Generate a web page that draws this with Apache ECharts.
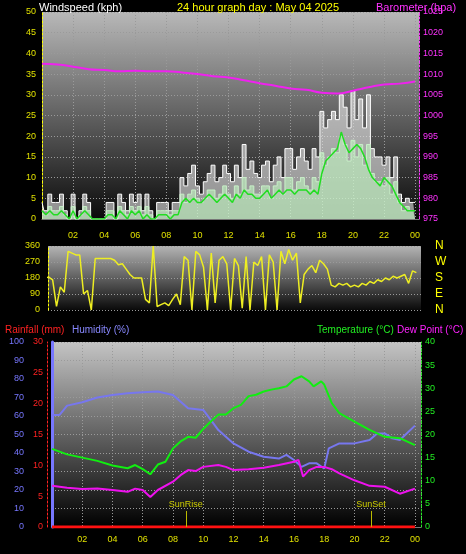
<!DOCTYPE html>
<html>
<head>
<meta charset="utf-8">
<script src="https://cdn.jsdelivr.net/npm/echarts@6/dist/echarts.min.js"></script>
<style>
	html, body { margin: 0; padding: 0; background: #000; }
	#chart { width: 466px; height: 554px; }
</style>
</head>
<body>
<div id="chart"></div>
<script>
//   wind, quarter-hour samples from 00:00
var windStep = 0.25;
var windGust = [4,2,6,4, 4,6,2,0, 6,0,2,6, 4,0,0,0, 0,4,4,0, 6,4,2,6, 4,6,2,6, 2,0,4,4, 4,2,4,4,
	10,8,11,13, 8,6,9,11, 13,9,10,13, 11,9,13,10, 18,12,14,11, 10,13,14,9, 13,15,10,17, 17,12,15,17,
	14,12,17,15, 26,22,24,26, 24,30,27,22, 31,24,29,22, 30,17,15,15, 13,15,10,15, 6,4,5,4, 4];
var windSpeed = [2,1,3,2, 2,3,1,0, 3,0,1,3, 2,0,0,0, 0,2,2,0, 3,2,1,3, 2,3,1,3, 1,0,2,2, 2,1,2,2,
	6,4,6,7, 5,4,5,7, 7,5,6,8, 6,5,8,6, 10,7,8,6, 6,8,8,5, 8,9,6,10, 10,7,9,10,
	8,7,10,9, 16,13,15,17, 16,20,18,14, 19,15,18,13, 18,11,9,9, 8,10,6,9, 4,2,3,2, 2];
var windAvg = [2,1,2,1, 1,2,1,0, 2,0,1,2, 1,0,0,0, 0,1,1,0, 2,1,0,2, 1,2,0,1, 0,0,1,1, 1,0,1,1,
	4,5,4,5, 4,4,5,6, 5,4,5,6, 5,4,6,5, 7,6,6,5, 5,6,7,5, 6,7,6,7, 7,6,7,7,
	7,6,7,6, 11,14,15,16, 17,21,18,16, 17,18,17,15, 12,10,9,8, 10,9,8,6, 4,3,2,2, 2];
var windDir = [180,185,170,20, 130,100,330,320, 310,310,90,110, 0,290,290,290, 290,290,280,255,
	260,230,200,180, 180,180,60,40, 360,20,30,40, 25,60,90,30, 300,280,0,330, 310,240,0,320,
	40,280,300,260, 0,290,250,10, 300,0,270,250, 300,0,310,270, 0,330,260,340, 280,320,40,200,
	230,250,210,280, 260,230,140,130, 150,140,150,130, 140,130,150,140, 160,150,170,160,
	180,170,190,180, 190,200,150,220, 210];
//   barometer, hourly
var baroHours = [0,1,2,3,4,5,6,7,8,9,10,11,12,13,14,15,16,17,18,19,20,21,22,23,24];
var baro = [1012.5,1012.3,1011.8,1011.2,1011,1010.7,1010.8,1010.7,1010.7,1010.4,1010,1009.5,1009.2,
	1008.5,1007.8,1007.2,1006.5,1006.2,1005.5,1005.3,1006,1006.8,1007.5,1007.7,1008.2];
//   temperature
var tempHours = [0,1,2,3,4,5,5.5,6,6.5,7,7.5,8,8.5,9,9.5,10,10.5,11,11.5,12,12.5,13,13.5,14,14.5,15,15.5,16,16.5,17,17.3,17.8,18,18.5,19,20,21,22,23,24];
var temp = [16.9,15.7,15,14.3,13.3,12.7,13.4,12.5,11.4,13.5,14.1,17,18.5,19.5,19.3,21.2,22.8,24.3,24.3,25.7,26.4,28.3,28.6,29.3,29.7,30,30.4,31.9,32.6,31.5,30.4,31.5,30.8,26.8,24.6,22.8,21,19.5,19.2,17.7];
var dewHours = [0,1,2,3,4,5,5.5,6,6.5,7,8,8.5,9,9.5,10,11,11.5,12,13,14,15,16,16.3,16.6,17,17.5,18,18.5,19,20,21,22,23,24];
var dew = [8.9,8.5,8.2,8.3,8,7.6,8.3,8,6.5,8,9.8,11.2,12.3,12.1,13,13.4,13,12.3,12.5,12.8,13.4,14.1,14.5,10.9,12.3,13,13,12.5,11.6,10.1,8.9,8.7,7.2,8.3];
var humHours = [0,0.5,1,2,3,4,5,6,7,8,9,10,10.5,11,12,13,14,15,15.5,16,16.5,17,17.5,18,18.3,19,20,21,21.5,22,22.5,23,24];
var hum = [60.6,60.6,65.6,67.4,70,71.4,72.3,72.9,73.2,71.4,64.2,63.3,57.9,52.4,45.2,40.7,38,37,39,36.2,32.5,34.4,34.4,31.6,42.5,45.2,45.2,47,50.6,50.6,47.9,47,54.8];
var rainHours = [0, 24];
var rain = [0, 0];
var sunLabels = ['SunRise', 'SunSet'];
var sunHours = [8.85, 21.1];

var pairs = function (xs, ys) {
	var out = [];
	for (var i = 0; i < ys.length; i++) out.push([xs[i], ys[i]]);
	return out;
};
var stepped = function (ys) {
	var out = [];
	for (var i = 0; i < ys.length; i++) out.push([i * windStep, ys[i]]);
	return out;
};
var bg = function (top, bottom) {
	return new echarts.graphic.LinearGradient(0, 0, 0, 1, [{offset: 0, color: top}, {offset: 1, color: bottom}]);
};
var hourLabel = function (v) {
	var h = Math.round(v) % 24;
	return (h < 10 ? '0' : '') + h;
};
var dotted = {show: true, lineStyle: {color: '#9a9a9a', type: [1, 2], width: 1}};
var font = 'Liberation Sans';
var head = function (text, left, top, color, size) {
	return {text: text, left: left, top: top, textStyle: {color: color, fontSize: size, fontWeight: 'normal'}};
};

var chart = echarts.init(document.getElementById('chart'));
chart.setOption({
	backgroundColor: '#000',
	animation: false,
	textStyle: {fontFamily: font},
	title: [
		head('Windspeed (kph)', 34, -3, '#fff', 11),
		head('24 hour graph day : May 04 2025', 172, -3, '#ffff00', 11),
		head('Barometer (hpa)', 371, -3, '#ff33ff', 11),
		head('Rainfall (mm)', 0, 320, '#ff2222', 10),
		head('Humidity (%)', 67, 320, '#8888ff', 10),
		head('Temperature (°C)', 312, 320, '#22ee22', 10),
		head('Dew Point (°C)', 392, 320, '#ff22ff', 10)
	],
	grid: [
		{left: 42, right: 47, top: 12, height: 207, show: true, borderWidth: 0, backgroundColor: bg('#b8b8b8', '#0a0a0a')},
		{left: 48, right: 45, top: 246, height: 64, show: true, borderWidth: 0, backgroundColor: bg('#b4b4b4', '#0a0a0a')},
		{left: 52, right: 45, top: 342, height: 185, show: true, borderWidth: 0, backgroundColor: bg('#c4c4c4', '#000')}
	],
	xAxis: [
		{gridIndex: 0, type: 'value', min: 0, max: 24.25, interval: 2,
			axisLine: {lineStyle: {color: '#777'}}, axisTick: {show: false}, splitLine: dotted,
			axisLabel: {color: '#e0e000', fontSize: 9, margin: 12, showMinLabel: false, showMaxLabel: false, formatter: hourLabel}},
		{gridIndex: 1, type: 'value', min: 0.2, max: 24.3, show: false, splitLine: {show: false}},
		{gridIndex: 2, type: 'value', min: 0, max: 24.4, interval: 2,
			axisLine: {lineStyle: {color: '#777'}}, axisTick: {show: false}, splitLine: dotted,
			axisLabel: {color: '#e0e000', fontSize: 9, margin: 8, showMinLabel: false, showMaxLabel: false, formatter: hourLabel}}
	],
	yAxis: [
		{gridIndex: 0, type: 'value', min: 0, max: 50, interval: 5,
			axisLine: {show: true, lineStyle: {color: '#ffff00', type: [2, 2]}}, axisTick: {show: false},
			splitLine: dotted, axisLabel: {color: '#e0e000', fontSize: 9, margin: 6}},
		{gridIndex: 0, type: 'value', min: 975, max: 1025, interval: 5, position: 'right',
			axisLine: {show: true, lineStyle: {color: '#ff33ff', type: [2, 2]}}, axisTick: {show: false}, splitLine: {show: false},
			axisLabel: {color: '#ff33ff', fontSize: 9, margin: 4, formatter: function (v) { return String(v); }}},
		{gridIndex: 1, type: 'value', min: 0, max: 360, interval: 90,
			axisLine: {show: true, lineStyle: {color: '#ffff00', type: [2, 2]}}, axisTick: {show: false}, splitLine: dotted,
			axisLabel: {color: '#e0e000', fontSize: 9, margin: 8}},
		{gridIndex: 1, type: 'value', min: 0, max: 360, interval: 90, position: 'right',
			axisLine: {show: false}, axisTick: {show: false}, splitLine: {show: false},
			axisLabel: {color: '#ffff00', fontSize: 12, margin: 14,
				formatter: function (v) { return ['N', 'E', 'S', 'W', 'N'][v / 90]; }}},
		{gridIndex: 2, type: 'value', min: 0, max: 100, interval: 10, position: 'left', offset: 22,
			axisLine: {show: true, lineStyle: {color: '#7777ff', width: 3}}, axisTick: {show: false}, splitLine: dotted,
			axisLabel: {color: '#7777ff', fontSize: 9, margin: 6}},
		{gridIndex: 2, type: 'value', min: 0, max: 30, interval: 5, position: 'left', offset: 5,
			axisLine: {show: true, lineStyle: {color: '#ff2222', type: [2, 2]}}, axisTick: {show: false}, splitLine: {show: false},
			axisLabel: {color: '#ff2222', fontSize: 9, margin: 4}},
		{gridIndex: 2, type: 'value', min: 0, max: 40, interval: 5, position: 'right',
			axisLine: {show: true, lineStyle: {color: '#22ee22', type: [2, 2]}}, axisTick: {show: false}, splitLine: {show: false},
			axisLabel: {color: '#22ee22', fontSize: 9, margin: 4}}
	],
	series: [
		{type: 'line', xAxisIndex: 0, yAxisIndex: 0, data: stepped(windGust), step: 'middle', symbol: 'none',
			lineStyle: {color: '#ffffff', width: 1}, areaStyle: {color: 'rgba(235,235,235,0.85)'}},
		{type: 'line', xAxisIndex: 0, yAxisIndex: 0, data: stepped(windSpeed), step: 'middle', symbol: 'none',
			lineStyle: {color: '#c8f0c8', width: 1}, areaStyle: {color: 'rgba(190,240,190,0.9)'}},
		{type: 'line', xAxisIndex: 0, yAxisIndex: 0, data: stepped(windAvg), symbol: 'none',
			lineStyle: {color: '#22dd22', width: 1.5}},
		{type: 'line', xAxisIndex: 0, yAxisIndex: 1, data: pairs(baroHours, baro), smooth: true, symbol: 'none',
			lineStyle: {color: '#ee22ee', width: 2}},
		{type: 'line', xAxisIndex: 1, yAxisIndex: 2, data: stepped(windDir), symbol: 'none',
			lineStyle: {color: '#eeee22', width: 1.5}},
		{type: 'line', xAxisIndex: 2, yAxisIndex: 4, data: pairs(humHours, hum), symbol: 'none',
			lineStyle: {color: '#7777ee', width: 2}},
		{type: 'line', xAxisIndex: 2, yAxisIndex: 6, data: pairs(tempHours, temp), symbol: 'none',
			lineStyle: {color: '#11ee11', width: 2}},
		{type: 'line', xAxisIndex: 2, yAxisIndex: 6, data: pairs(dewHours, dew), symbol: 'none',
			lineStyle: {color: '#ee11ee', width: 2}},
		{type: 'line', xAxisIndex: 2, yAxisIndex: 5, data: pairs(rainHours, rain), symbol: 'none',
			lineStyle: {color: '#ff1111', width: 3},
			markLine: {symbol: 'none', silent: true,
				lineStyle: {color: '#bbbb00', type: 'solid', width: 1},
				label: {position: 'end', color: '#cccc00', fontSize: 9, distance: 2, formatter: '{b}'},
				data: sunHours.map(function (h, i) {
					return [{name: sunLabels[i], coord: [h, 0]}, {coord: [h, 2.6]}];
				})}}
	]
});
</script>
</body>
</html>
